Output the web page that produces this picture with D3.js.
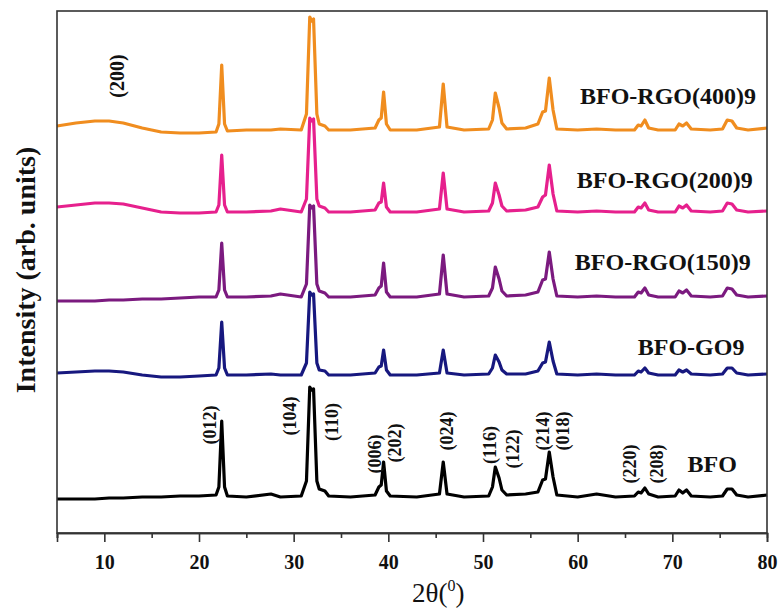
<!DOCTYPE html>
<html>
<head>
<meta charset="utf-8">
<script src="https://cdnjs.cloudflare.com/ajax/libs/d3/7.8.5/d3.min.js"></script>
<style>
    body { margin: 0; background: #fff; }
    text { font-family: "Liberation Serif", "Times New Roman", serif; }
</style>
</head>
<body>
<div id="chart-area"></div>
<script>
// XRD patterns, stacked with an offset per sample

let twoTheta = [5, 7, 9, 10.5, 12, 14, 16, 18, 20, 21.8, 22.1, 22.4, 22.7, 23.0, 25, 27.6, 28.6, 30.8,
    31.35, 31.7, 31.9, 32.1, 32.45, 32.7, 33.3, 33.7, 36, 38.6, 39.0, 39.25, 39.5, 39.8, 40.2, 43,
    45.4, 45.8, 46.2, 48, 50.6, 51.0, 51.3, 51.7, 52.0, 52.5, 54.5, 55.8, 56.3, 56.6, 57.0, 57.4, 57.8,
    60, 62.0, 64, 66.0, 66.4, 66.7, 67.1, 67.5, 68.5, 70.3, 70.7, 71.1, 71.5, 72.0, 74, 75.3, 75.8,
    76.3, 76.8, 78, 80];

let bfo = [-2, -2, -2, -1, -1, 0, 0, 1, 1, 2, 10, 76, 10, 1, 0, 3, 0, 1,
    16, 110, 107, 108, 16, 8, 6, 1, 0, 2, 10, 12, 35, 6, 1, 0,
    3, 35, 3, 0, 1, 10, 30, 19, 7, 2, 3, 5, 17, 18, 45, 20, 2,
    0, 3, 0, 1, 5, 4, 9, 3, 0, 1, 7, 4, 7, 1, 0, 1, 8,
    8, 2, 0, 2];

let bfoGO9 = [2, 3, 4, 4, 3, 0, -2, -2, -1, 0, 7, 53, 7, 0, 0, 1, 0, 0,
    12, 83, 80, 81, 12, 5, 4, 0, 0, 2, 8, 9, 25, 5, 0, 0,
    2, 25, 2, 0, 1, 7, 20, 13, 5, 1, 1, 4, 12, 13, 33, 14, 1,
    0, 1, 0, 0, 4, 3, 7, 2, 0, 0, 5, 3, 5, 1, 0, 1, 7,
    7, 2, 0, 1];

let bfoRGO150 = [-4, -4, -4, -3, -3, -2, -2, -1, 0, 0, 7, 54, 7, 0, 0, 1, 3, 0,
    13, 92, 89, 91, 13, 6, 4, 0, 0, 2, 9, 11, 34, 5, 0, 0,
    3, 42, 3, 0, 1, 9, 30, 18, 6, 1, 2, 5, 17, 18, 45, 18, 1,
    0, 1, 0, 0, 5, 4, 9, 2, 0, 0, 6, 4, 7, 1, 0, 1, 9,
    8, 2, 0, 1];

let bfoRGO200 = [5, 7, 9, 9, 8, 4, 0, -1, -1, 0, 7, 57, 7, 0, 0, 1, 3, 0,
    13, 94, 91, 93, 13, 6, 4, 0, 0, 2, 9, 10, 29, 5, 0, 0,
    3, 39, 3, 0, 1, 9, 29, 17, 6, 1, 2, 5, 15, 17, 47, 18, 1,
    0, 1, 0, 0, 5, 4, 9, 2, 0, 0, 6, 4, 7, 1, 0, 1, 9,
    8, 2, 0, 1];

let bfoRGO400 = [4, 7, 9, 9, 7, 2, -2, -3, -3, -2, 6, 65, 6, -1, 0, 0, 1, 0,
    16, 113, 109, 111, 16, 6, 4, 0, 0, 2, 10, 12, 38, 6, 0, 0,
    3, 46, 3, 0, 1, 10, 37, 22, 7, 1, 2, 6, 18, 19, 52, 20, 1,
    0, 1, 0, 0, 5, 4, 10, 2, 0, 0, 6, 4, 7, 1, 0, 1, 10,
    9, 2, 0, 2];

let sampleNames = ["BFO", "BFO-GO9", "BFO-RGO(150)9", "BFO-RGO(200)9", "BFO-RGO(400)9"];
let sampleData = [bfo, bfoGO9, bfoRGO150, bfoRGO200, bfoRGO400];
let offsets = [36, 158, 236, 321, 403];
let colors = ["#000000", "#17187f", "#7b1a7f", "#e6208d", "#f08d1f"];

// where the sample names sit (2theta, intensity)
let nameX = [71.6, 66.35, 59.7, 59.9, 60.25];
let nameY = [61, 178, 263, 345, 429];

// hkl labels
let hkl = ["(012)", "(104)", "(110)", "(006)", "(202)", "(024)", "(116)", "(122)", "(214)", "(018)", "(220)", "(208)", "(200)"];
let hklX = [21.16, 29.6, 34.05, 38.6, 40.7, 46.2, 50.74, 53.17, 56.34, 58.45, 65.53, 68.38, 11.34];
let hklY = [108, 117, 111, 79, 90, 102, 88, 84, 102, 102, 69, 69, 457];

let majorTicks = [10, 20, 30, 40, 50, 60, 70, 80];
let minorTicks = [5, 15, 25, 35, 45, 55, 65, 75];

let margin = {top: 11, right: 13, bottom: 76, left: 57};

let width = 780 - margin.left - margin.right,
    height = 609 - margin.top - margin.bottom;

let svg = d3.select("#chart-area").append("svg")
    .attr("width", 780)
    .attr("height", 609)
    .append("g")
    .attr("transform", "translate(" + margin.left + "," + margin.top + ")");

let x = d3.scaleLinear()
    .domain([5, 80])
    .range([0, width]);

let y = d3.scaleLinear()
    .domain([0, 522])
    .range([height, 0]);

let line = d3.line()
    .x(d => x(d[0]))
    .y(d => y(d[1]));

// top sample first so the lower traces sit on top of it
for (let i = sampleData.length - 1; i >= 0; i--) {
    let pts = twoTheta.map((t, j) => [t, sampleData[i][j] + offsets[i]]);
    svg.append("path")
        .datum(pts)
        .attr("fill", "none")
        .attr("stroke", colors[i])
        .attr("stroke-width", 3.2)
        .attr("stroke-linejoin", "round")
        .attr("d", line);
}

// frame
svg.append("rect")
    .attr("width", width)
    .attr("height", height)
    .attr("fill", "none")
    .attr("stroke", "#333")
    .attr("stroke-width", 1.6);

let xAxis = d3.axisBottom(x)
    .tickValues(majorTicks)
    .tickSize(9)
    .tickPadding(13)
    .tickFormat(d3.format("d"));

let xMinor = d3.axisBottom(x)
    .tickValues(minorTicks)
    .tickSize(5)
    .tickFormat("");

let gx = svg.append("g")
    .attr("class", "x-axis")
    .attr("transform", "translate(0," + height + ")")
    .call(xAxis)
    .attr("font-size", 20)
    .attr("font-weight", "bold");

svg.append("g")
    .attr("class", "x-minor")
    .attr("transform", "translate(0," + height + ")")
    .call(xMinor);

svg.selectAll(".domain").attr("stroke", "#333").attr("stroke-width", 1.6);
svg.selectAll(".tick line").attr("stroke", "#333").attr("stroke-width", 1.6);
gx.selectAll("text")
    .attr("fill", "#111")
    .attr("font-size", 20)
    .attr("font-weight", "bold")
    .style("font-size", "20px")
    .style("font-weight", "bold");

// axis titles
let xTitle = svg.append("text")
    .attr("x", 355)
    .attr("y", 591)
    .attr("fill", "#111")
    .style("font-size", "27px");
xTitle.append("tspan").text("2θ(");
xTitle.append("tspan").attr("dy", -11).style("font-size", "16px").text("0");
xTitle.append("tspan").attr("dy", 11).text(")");

svg.append("text")
    .attr("transform", "translate(" + (-32) + "," + 259 + ") rotate(-90)")
    .attr("text-anchor", "middle")
    .attr("dy", "0.35em")
    .attr("fill", "#111")
    .style("font-size", "28px")
    .style("font-weight", "bold")
    .text("Intensity (arb. units)");

// sample names
svg.selectAll(".sample-name")
    .data(sampleNames)
    .enter().append("text")
    .attr("class", "sample-name")
    .attr("x", (d, i) => x(nameX[i]))
    .attr("y", (d, i) => y(nameY[i]))
    .attr("fill", "#111")
    .style("font-size", "24px")
    .style("font-weight", "bold")
    .text(d => d);

// peak indices
svg.selectAll(".hkl")
    .data(hkl)
    .enter().append("text")
    .attr("class", "hkl")
    .attr("transform", (d, i) => "translate(" + x(hklX[i]) + "," + y(hklY[i]) + ") rotate(-90)")
    .attr("text-anchor", "middle")
    .attr("dy", "0.35em")
    .attr("fill", "#111")
    .style("font-size", (d, i) => i === 12 ? "20px" : "18px")
    .style("font-weight", "bold")
    .text(d => d);
</script>
</body>
</html>
